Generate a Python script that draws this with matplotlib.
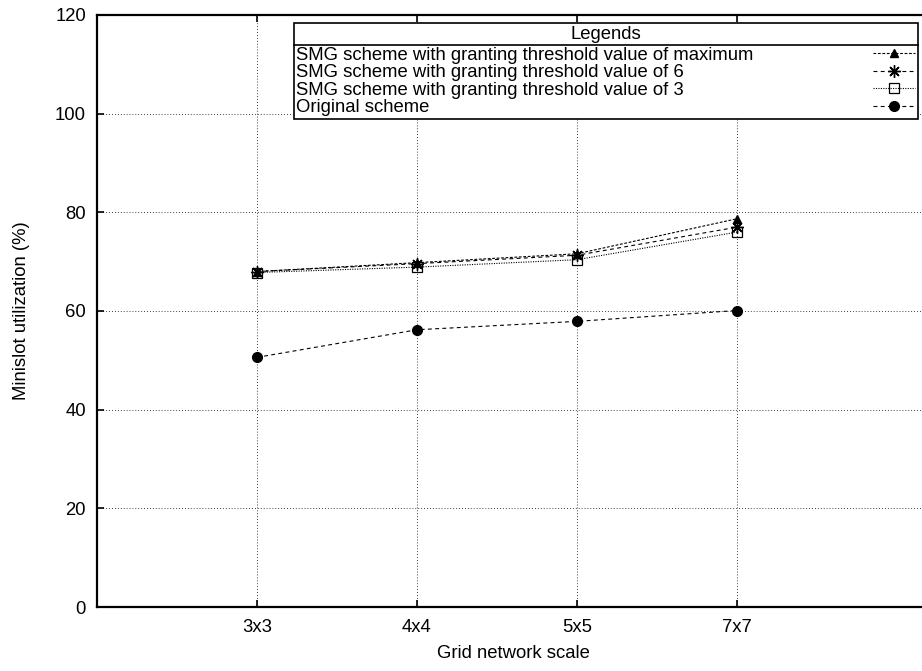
import matplotlib.pyplot as plt
from matplotlib.lines import Line2D

plt.rcParams['font.family'] = ['Liberation Sans', 'DejaVu Sans']

scales = ['3x3', '4x4', '5x5', '7x7']
positions = [1, 2, 3, 4]
smg_max = [68.0, 69.8, 71.6, 78.7]
smg_6 = [68.0, 69.6, 71.3, 77.0]
smg_3 = [67.8, 68.9, 70.4, 76.0]
original = [50.6, 56.2, 57.9, 60.1]
yticks = [0, 20, 40, 60, 80, 100, 120]

W, H = 922, 671
FS = 13.3
fig = plt.figure(figsize=(W / 100, H / 100), dpi=100)
# axes run past the right edge, as in the reference
ax = fig.add_axes([97 / W, (H - 607) / H, 960 / W, 592 / H])

ax.plot(positions, smg_max, color='black', lw=0.8, dashes=(2.5, 1.5),
        marker='^', ms=6, label='SMG scheme with granting threshold value of maximum')
ax.plot(positions, smg_6, color='black', lw=0.8, dashes=(3.5, 3),
        marker=(8, 2, 0), ms=9, mew=1.0, label='SMG scheme with granting threshold value of 6')
ax.plot(positions, smg_3, color='black', lw=0.8, dashes=(1, 1.2),
        marker='s', ms=7, mfc='none', mew=0.9, label='SMG scheme with granting threshold value of 3')
ax.plot(positions, original, color='black', lw=0.8, dashes=(3.5, 3),
        marker='o', ms=7, label='Original scheme')

ax.set_xlim(0, 6)
ax.set_ylim(0, 120)
ax.set_xticks(positions)
ax.set_xticklabels(scales)
ax.set_yticks(yticks)
ax.grid(True, color='black', lw=0.6, dashes=(1, 2.5))

ax.tick_params(axis='both', direction='in', length=5, width=1.2, labelsize=FS)
ax.tick_params(axis='x', top=True, pad=9)
ax.tick_params(axis='y', pad=8)
for s in ax.spines.values():
    s.set_linewidth(1.6)

ax.set_xlabel('Grid network scale', fontsize=FS)
ax.xaxis.set_label_coords((513 - 97) / 960, -(645 - 607) / 592)
ax.set_ylabel('Minislot utilization (%)', fontsize=FS)
ax.yaxis.set_label_coords((30 - 97) / 960, 0.5)

gap = 119  # px between longest label and marker column
leg = ax.legend(title='Legends', loc='upper right', bbox_to_anchor=(918 / W, 1 - 23 / H),
                bbox_transform=fig.transFigure, borderaxespad=0, markerfirst=False,
                fontsize=FS, title_fontsize=FS, handlelength=2.3, handletextpad=6,
                labelspacing=0.02, borderpad=0.15, fancybox=False, framealpha=1,
                edgecolor='black')
leg.get_frame().set_linewidth(1.2)
leg._legend_box.align = 'center'
leg._legend_box.sep = 3

# left-align the labels: pad the shorter ones so the markers stay in one column
fig.canvas.draw()
r = fig.canvas.get_renderer()
widths = [t.get_window_extent(r).width for t in leg.get_texts()]
col = leg._legend_handle_box.get_children()[0]
for item, w in zip(col.get_children(), widths):
    item.sep = (gap + max(widths) - w) * 72 / 100

# separator line under the legend title, halfway to the first row
fig.canvas.draw()
fb = leg.get_window_extent(r)
tb = leg.get_title().get_window_extent(r)
ysep = tb.y0 - 2
fig.add_artist(Line2D([fb.x0 / W, fb.x1 / W], [ysep / H, ysep / H],
                      transform=fig.transFigure, color='black', lw=1.2))

fig.savefig('out.png', dpi=100)
